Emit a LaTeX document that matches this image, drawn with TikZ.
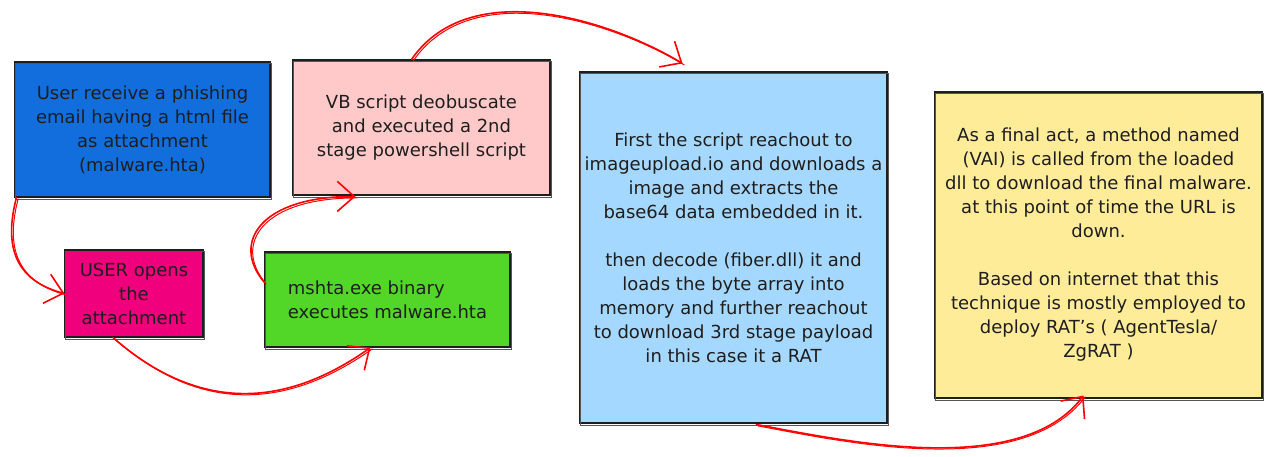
\documentclass[tikz,border=0pt]{standalone}
\usepackage{fontspec}
\setmainfont{DejaVu Sans}
\usetikzlibrary{arrows.meta,calc}

\definecolor{ink}{HTML}{1E1E1E}
\definecolor{cblue}{RGB}{17,110,220}
\definecolor{cpink}{HTML}{FFC9C9}
\definecolor{cmagenta}{RGB}{240,0,125}
\definecolor{cgreen}{RGB}{82,214,40}
\definecolor{csky}{HTML}{A5D8FF}
\definecolor{cyellow}{HTML}{FFEC99}

% a hand-drawn look: every frame and every link gets a second, slightly shifted stroke
\newcommand\roughframe[1]{%
  \draw[ink!75, line width=0.8pt, transform canvas={shift={(1.2pt,-1.5pt)}}]
    (#1.north west) rectangle (#1.south east);}
\newcommand\roughlink[1]{%
  \draw[link, tip] #1;
  \draw[link, line width=1pt, transform canvas={shift={(1.7pt,-1.4pt)}}] #1;}

\begin{document}
\begin{tikzpicture}[x=1pt, y=-1pt,
  card/.style={draw=ink, line width=1.1pt, inner sep=0pt, align=center,
    text=ink, font=\fontsize{18}{24}\selectfont},
  link/.style={draw=red, line width=1.6pt, line cap=round},
  tip/.style={-{Straight Barb[length=17pt, width=30pt]}}]

\useasboundingbox[fill=white] (0,0) rectangle (1266,456);

% the stages of the infection chain
\node[card, fill=cblue, minimum width=255, minimum height=135] (mail) at (142.5,129.5)
  {User receive a phishing\\email having a html file\\as attachment\\(malware.hta)};
\node[card, fill=cmagenta, minimum width=138, minimum height=87] (open) at (134,293.5)
  {USER opens\\the\\attachment};
\node[card, fill=cgreen, minimum width=245, minimum height=95, align=left] (mshta) at (387.5,299.5)
  {mshta.exe binary\\executes malware.hta};
\node[card, fill=cpink, minimum width=257, minimum height=135] (vbs) at (421.5,127.5)
  {VB script deobuscate\\and executed a 2nd\\stage powershell script};
\node[card, fill=csky, minimum width=307, minimum height=351] (stage) at (733.5,247.5)
  {First the script reachout to\\imageupload.io and downloads a\\image and extracts the\\base64 data embedded in it.\\[24pt]
   then decode (fiber.dll) it and\\loads the byte array into\\memory and further reachout\\to download 3rd stage payload\\in this case it a RAT};
\node[card, fill=cyellow, minimum width=327, minimum height=306] (final) at (1098.5,245)
  {As a final act, a method named\\(VAI) is called from the loaded\\dll to download the final malware.\\at this point of time the URL is\\down.\\[24pt]
   Based on internet that this\\technique is mostly employed to\\deploy RAT's ( AgentTesla/\\ZgRAT )};

\foreach \n in {mail,open,mshta,vbs,stage,final} {\roughframe{\n}}

% flow between the stages
\roughlink{($(mail.south west)+(2,0)$) .. controls (4,245) and (14,280) .. (open.west)}
\roughlink{($(open.south)+(-21,0)$) .. controls (190,405) and (275,415) .. ($(mshta.south)+(-17,0)$)}
\roughlink{($(mshta.west)+(0,-17)$) .. controls (230,242) and (262,196) .. ($(vbs.south)+(-66,1)$)}
\roughlink{($(vbs.north)+(-10,0)$) .. controls (470,-25) and (610,20) .. ($(stage.north)+(-51,-8)$)}
\roughlink{($(stage.south)+(23,1)$) .. controls (840,440) and (1020,480) .. ($(final.south)+(-15,-3)$)}

\end{tikzpicture}
\end{document}
